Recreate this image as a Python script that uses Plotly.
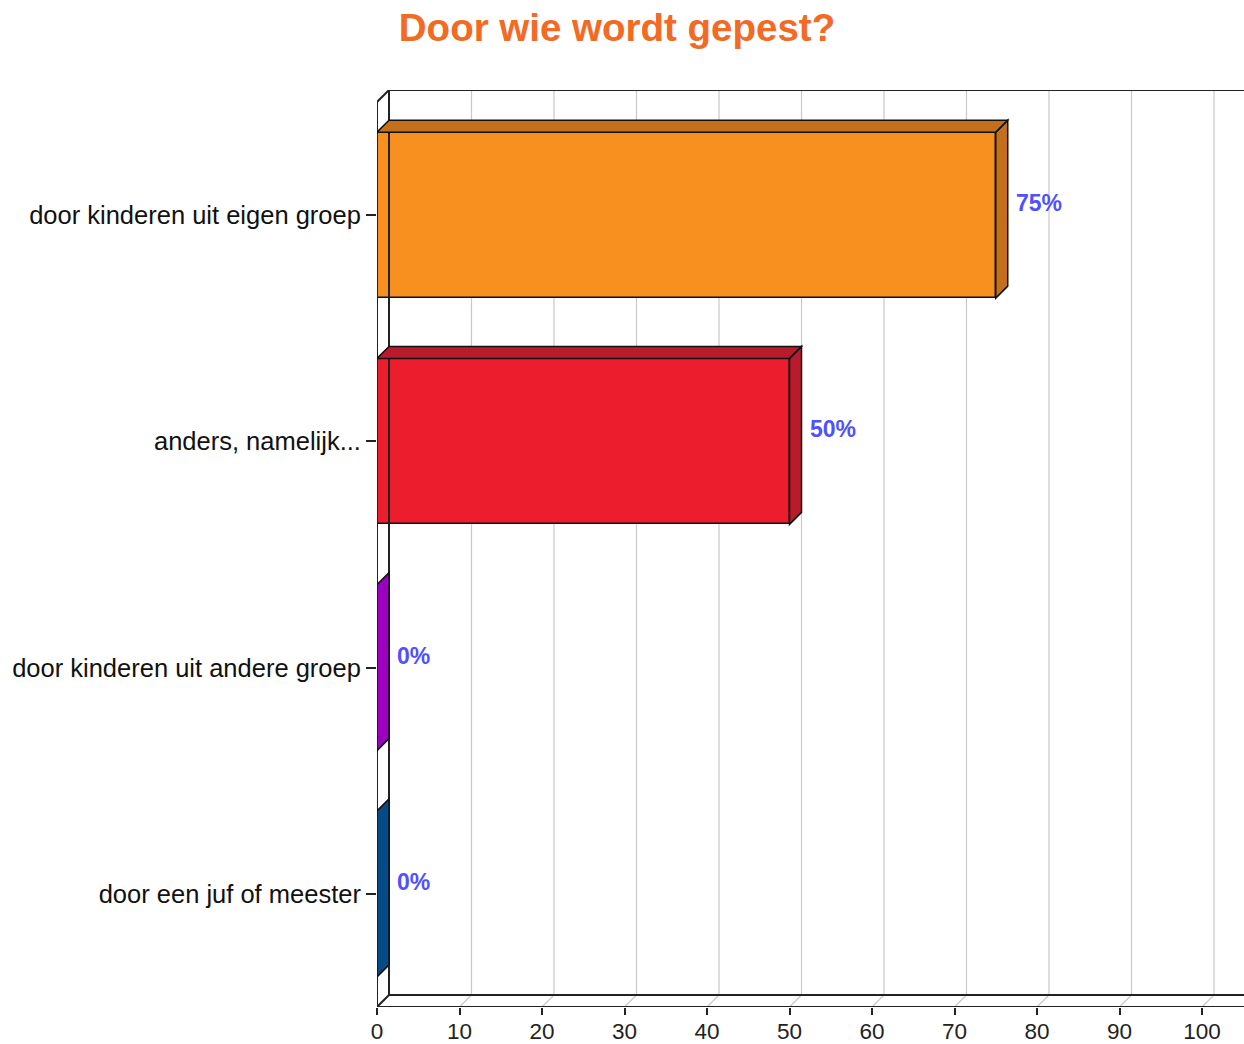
import plotly.graph_objects as go

# ---- data ----
categories = ["door kinderen uit eigen groep", "anders, namelijk...",
              "door kinderen uit andere groep", "door een juf of meester"]
values = [75, 50, 0, 0]
x_ticks = [0, 10, 20, 30, 40, 50, 60, 70, 80, 90, 100]
title_text = "Door wie wordt gepest?"

# ---- style ----
front_colors = ["#F7901E", "#EC1E2E", "#9A00BE", "#074B86"]
dark_colors = ["#C46F1B", "#B81B2B", "#9A00BE", "#074B86"]
label_color = "#5050FF"
W, H = 1244, 1044
ML, MR, MT, MB = 377, 0, 90, 37
PX_PER_X = 8.25            # pixels per x unit
PX_PER_Y = 226.25          # pixels per category
DEPTH_PX = 12
DX = DEPTH_PX / PX_PER_X
DY = DEPTH_PX / PX_PER_Y
X_MAX = (W - ML - MR) / PX_PER_X
Y_TOP = -0.5 - DY
Y_BOT = len(categories) - 0.5
BAR_W = 166 / PX_PER_Y
FONT = "Liberation Sans, Arial, sans-serif"

pos = list(range(len(categories)))

fig = go.Figure()
fig.add_trace(go.Bar(
    x=values, y=pos, orientation="h", width=BAR_W, base=0,
    marker=dict(color=front_colors, line=dict(color="#111", width=1.5)),
    hoverinfo="skip", showlegend=False))

shapes = []
# grid on back wall + floor diagonals
for v in x_ticks[1:]:
    shapes.append(dict(type="line", xref="x", yref="y", x0=v + DX, x1=v + DX,
                       y0=Y_BOT - DY, y1=Y_TOP, line=dict(color="#c8c8c8", width=1.2),
                       layer="below"))
    shapes.append(dict(type="line", xref="x", yref="y", x0=v, x1=v + DX,
                       y0=Y_BOT, y1=Y_BOT - DY, line=dict(color="#c8c8c8", width=1.2),
                       layer="below"))
ax_line = dict(color="#222", width=2)
box = [
    (DX, Y_TOP, X_MAX, Y_TOP),                 # back top
    (DX, Y_BOT - DY, X_MAX, Y_BOT - DY),       # back bottom
    (DX, Y_TOP, DX, Y_BOT - DY),               # back left
    (0, -0.5, 0, Y_BOT),                       # front left
    (0, Y_BOT, X_MAX, Y_BOT),                  # front bottom
    (0, -0.5, DX, Y_TOP),                      # top-left diagonal
    (0, Y_BOT, DX, Y_BOT - DY),                # bottom-left diagonal
]
for x0, y0, x1, y1 in box:
    shapes.append(dict(type="line", xref="x", yref="y", x0=x0, y0=y0, x1=x1, y1=y1,
                       line=ax_line, layer="above"))

# 3D faces of bars
annotations = []
for i, (v, c) in enumerate(zip(values, pos)):
    top = c - BAR_W / 2
    bot = c + BAR_W / 2
    side = f"M {v},{top} L {v + DX},{top - DY} L {v + DX},{bot - DY} L {v},{bot} Z"
    shapes.append(dict(type="path", xref="x", yref="y", path=side,
                       fillcolor=dark_colors[i], line=dict(color="#111", width=1.5)))
    if v > 0:
        topf = f"M 0,{top} L {v},{top} L {v + DX},{top - DY} L {DX},{top - DY} Z"
        shapes.append(dict(type="path", xref="x", yref="y", path=topf,
                           fillcolor=dark_colors[i], line=dict(color="#111", width=1.5)))
    annotations.append(dict(x=v + DX, y=c - DY, xref="x", yref="y", text=f"{v}%",
                            showarrow=False, xanchor="left", yanchor="middle", xshift=6,
                            font=dict(family=FONT, size=23, color=label_color, weight="bold")))

fig.update_layout(
    width=W, height=H,
    margin=dict(l=ML, r=MR, t=MT, b=MB, pad=0, autoexpand=False),
    paper_bgcolor="white", plot_bgcolor="white",
    title=dict(text=f"<b>{title_text}</b>", x=617 / W, xref="container",
               xanchor="center", y=1 - 28 / H, yref="container",
               yanchor="middle", font=dict(family=FONT, size=38.5, color="#F26A24")),
    xaxis=dict(range=[0, X_MAX], tickvals=x_ticks, showgrid=False, zeroline=False,
               showline=False, ticks="outside", ticklen=7, tickwidth=2, tickcolor="#222",
               tickfont=dict(family=FONT, size=22.5, color="#222"), fixedrange=True,
               automargin=False, ticklabelstandoff=-3),
    yaxis=dict(range=[Y_BOT, Y_TOP], tickvals=pos, ticktext=categories, showgrid=False,
               zeroline=False, showline=False, ticks="outside", ticklen=10, tickwidth=2,
               tickcolor="#222", tickfont=dict(family=FONT, size=25.5, color="#111"),
               fixedrange=True, automargin=False),
    shapes=shapes, annotations=annotations,
    bargap=0,
)
fig.write_html(
    "out.html",
    config={"displayModeBar": False},
    post_script="document.body.style.margin='0';document.body.style.overflow='hidden';",
)
